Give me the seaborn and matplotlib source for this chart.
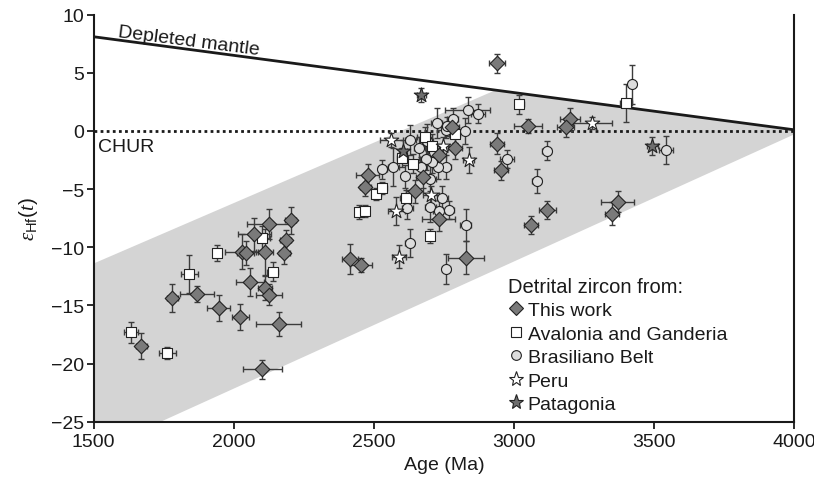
import matplotlib
matplotlib.use("Agg")
import matplotlib.pyplot as plt
from matplotlib.lines import Line2D
import numpy as np
import pandas as pd
import seaborn as sns

# ---------------- data ----------------
# This work (diamonds)
tw_age = [2940, 3200, 3185, 3052, 2940, 2955, 2790, 3060, 3120, 3370, 3350, 2830, 2415, 2455,
          2470, 2478, 2646, 2676, 2733, 2731, 1670, 1781, 1870, 1946, 2024, 2161, 2102, 2057,
          2113, 2126, 2028, 2043, 2111, 2181, 2185, 2204, 2126, 2074, 2778]
tw_eps = [5.8, 1.0, 0.3, 0.4, -1.1, -3.4, -1.5, -8.1, -6.8, -6.1, -7.1, -10.9, -11.0, -11.5,
          -4.8, -3.8, -5.2, -4.0, -2.1, -7.6, -18.5, -14.4, -14.0, -15.2, -16.0, -16.6, -20.5, -13.0,
          -13.5, -14.1, -10.4, -10.5, -10.4, -10.5, -9.4, -7.7, -8.0, -8.9, 0.3]
tw_xerr = [30, 35, 30, 50, 25, 25, 25, 25, 30, 60, 25, 65, 30, 40,
           20, 40, 30, 25, 25, 60, 20, 20, 60, 40, 30, 80, 70, 50,
           25, 45, 60, 30, 30, 20, 20, 20, 80, 60, 25]
tw_yerr = [0.8, 1.0, 0.8, 0.6, 0.9, 0.8, 0.9, 0.8, 0.8, 0.9, 1.0, 1.4, 1.3, 0.6,
           0.8, 1.0, 1.0, 0.9, 1.0, 1.0, 1.1, 1.2, 0.7, 1.1, 1.1, 1.0, 0.8, 1.2,
           1.0, 0.9, 1.5, 1.0, 2.0, 0.9, 0.9, 1.2, 1.3, 1.4, 0.8]

# Avalonia and Ganderia (squares)
av_age = [1633, 1763, 1841, 1941, 2100, 2139, 2448, 2469, 2509, 2531, 2614, 2700, 3020, 3400,
          2789, 2641, 2602, 2681, 2706]
av_eps = [-17.3, -19.1, -12.3, -10.5, -9.2, -12.1, -7.0, -6.9, -5.4, -4.9, -5.8, -9.0, 2.3, 2.4,
          -0.3, -2.8, -2.3, -0.5, -1.3]
av_xerr = [25, 30, 30, 15, 30, 20, 15, 15, 15, 15, 20, 15, 15, 20, 20, 20, 20, 25, 20]
av_yerr = [0.9, 0.5, 1.6, 0.7, 1.0, 0.8, 0.6, 0.5, 0.5, 0.5, 0.7, 0.6, 0.8, 1.6, 0.7, 0.8, 0.8, 0.8, 1.0]

# Brasiliano Belt (circles)
br_age = [3422, 3543, 3117, 3081, 2976, 2872, 2835, 2826, 2756, 2724, 2828, 2757, 2628, 2702,
          2733, 2767, 2744, 2756, 2728, 2715, 2709, 2685, 2691, 2630, 2611, 2570, 2531, 2620,
          2702, 2663, 2781, 2670, 2760]
br_eps = [4.0, -1.6, -1.7, -4.3, -2.4, 1.5, 1.8, 0.0, 0.1, 0.7, -8.1, -11.9, -9.6, -6.5,
          -6.9, -6.8, -5.8, -3.1, -3.1, -1.85, -2.7, -2.4, -0.9, -0.75, -3.9, -3.1, -3.3, -6.6,
          -4.1, -1.5, 1.0, -3.1, 0.4]
br_xerr = [15, 25, 15, 15, 25, 25, 80, 15, 30, 20, 20, 15, 15, 20,
           20, 20, 20, 20, 20, 20, 20, 20, 20, 20, 15, 20, 15, 20, 20, 20, 20, 20, 20]
br_yerr = [1.7, 1.2, 0.8, 1.0, 0.8, 0.8, 1.1, 1.1, 0.7, 1.3, 1.4, 1.3, 1.2, 1.3,
           1.0, 0.8, 1.1, 1.0, 1.0, 0.9, 0.9, 1.0, 1.5, 1.3, 1.0, 1.6, 0.8, 1.0, 1.5, 1.0,
           1.0, 0.9, 0.8]

# Peru (white stars)
pe_age = [3280, 2563, 2839, 2746, 2704, 2580, 2589]
pe_eps = [0.7, -0.8, -2.5, -1.3, -5.5, -6.9, -10.8]
pe_xerr = [70, 40, 20, 50, 30, 30, 25]
pe_yerr = [0.5, 0.6, 1.1, 0.8, 0.8, 1.2, 1.0]

# Patagonia (dark stars)
pa_age = [2670, 3494, 2604]
pa_eps = [3.1, -1.3, -1.7]
pa_xerr = [15, 20, 15]
pa_yerr = [0.6, 0.8, 0.9]

# reference curves
dm_age = [1500, 4000]
dm_eps = [8.1, 0.1]
chur_age = [1500, 4000]
chur_eps = [0, 0]
env_age = [1500, 2934, 4000, 4000, 1740, 1500]
env_eps = [-11.4, 3.5, 0.1, -0.3, -25.0, -25.0]

# ---------------- plot ----------------
sns.set_style("ticks")
plt.rcParams['font.family'] = ['Liberation Sans', 'DejaVu Sans']
plt.rcParams['mathtext.fontset'] = 'custom'
plt.rcParams['mathtext.rm'] = 'Liberation Sans'
plt.rcParams['mathtext.it'] = 'Liberation Serif:italic'

fig = plt.figure(figsize=(8.14, 4.89), dpi=100)
ax = fig.add_axes([0.115, 0.1356, 0.8605, 0.8324])

ax.fill(env_age, env_eps, color='#d4d4d4', lw=0, zorder=1)
ax.plot(dm_age, dm_eps, color='#1a1a1a', lw=2, zorder=2)
ax.plot(chur_age, chur_eps, color='#1a1a1a', lw=2, ls=(0, (1, 1.2)), zorder=2)

groups = [
    ("Brasiliano Belt", br_age, br_eps, br_xerr, br_yerr, 'o', '#dcdcdc', 52),
    ("Avalonia and Ganderia", av_age, av_eps, av_xerr, av_yerr, 's', 'white', 44),
    ("Peru", pe_age, pe_eps, pe_xerr, pe_yerr, '*', 'white', 120),
    ("This work", tw_age, tw_eps, tw_xerr, tw_yerr, 'D', '#7a7a7a', 55),
    ("Patagonia", pa_age, pa_eps, pa_xerr, pa_yerr, '*', '#6e6e6e', 120),
]
for name, xs, ys, xe, ye, mk, fc, s in groups:
    ax.errorbar(xs, ys, xerr=xe, yerr=ye, fmt='none', ecolor='#3c3c3c',
                elinewidth=1, capsize=2.5, capthick=1, zorder=3)
    df = pd.DataFrame({'age': xs, 'eps': ys})
    sns.scatterplot(data=df, x='age', y='eps', marker=mk, s=s, color=fc,
                    edgecolor='#222222', linewidth=0.8, ax=ax, zorder=4, legend=False)

ax.set_xlim(1500, 4000)
ax.set_ylim(-25, 10)
ax.set_xticks([1500, 2000, 2500, 3000, 3500, 4000])
ax.set_yticks([-25, -20, -15, -10, -5, 0, 5, 10])
ax.set_yticklabels(['\u221225', '\u221220', '\u221215', '\u221210', '\u22125', '0', '5', '10'])
ax.tick_params(axis='both', labelsize=14, length=5, width=1.3, color='#1a1a1a',
               labelcolor='#1a1a1a', direction='out')
ax.tick_params(axis='y', pad=2)
for side in ['left', 'bottom', 'right']:
    ax.spines[side].set_linewidth(1.5)
    ax.spines[side].set_color('#1a1a1a')
ax.spines['top'].set_visible(False)

ax.set_xlabel('Age (Ma)', fontsize=14, color='#1a1a1a', labelpad=4)
ax.set_ylabel(r'$\varepsilon_{\mathrm{Hf}}(\mathit{t})$', fontsize=15, color='#1a1a1a', labelpad=8)

ax.text(1585, 8.15, 'Depleted mantle', fontsize=14, rotation=-7.3, rotation_mode='anchor',
        ha='left', va='baseline', color='#1a1a1a')
ax.text(1515, -1.3, 'CHUR', fontsize=14, ha='left', va='center', color='#1a1a1a')

handles = [
    Line2D([], [], ls='none', marker='D', ms=7, mfc='#7a7a7a', mec='#222222', mew=0.8),
    Line2D([], [], ls='none', marker='s', ms=7, mfc='white', mec='#222222', mew=0.8),
    Line2D([], [], ls='none', marker='o', ms=7, mfc='#dcdcdc', mec='#222222', mew=0.8),
    Line2D([], [], ls='none', marker='*', ms=11, mfc='white', mec='#222222', mew=0.8),
    Line2D([], [], ls='none', marker='*', ms=11, mfc='#6e6e6e', mec='#222222', mew=0.8),
]
labels = ['This work', 'Avalonia and Ganderia', 'Brasiliano Belt', 'Peru', 'Patagonia']
leg = ax.legend(handles, labels, title='Detrital zircon from:', loc='upper left',
                bbox_to_anchor=(0.592, 0.356), frameon=False, fontsize=14, title_fontsize=14.5,
                handlelength=0.8, handletextpad=0.2, labelspacing=0.3, borderpad=0,
                borderaxespad=0)
leg._legend_box.align = 'left'
for t in leg.get_texts():
    t.set_color('#1a1a1a')
leg.get_title().set_color('#1a1a1a')

fig.savefig('out.png', dpi=100)
